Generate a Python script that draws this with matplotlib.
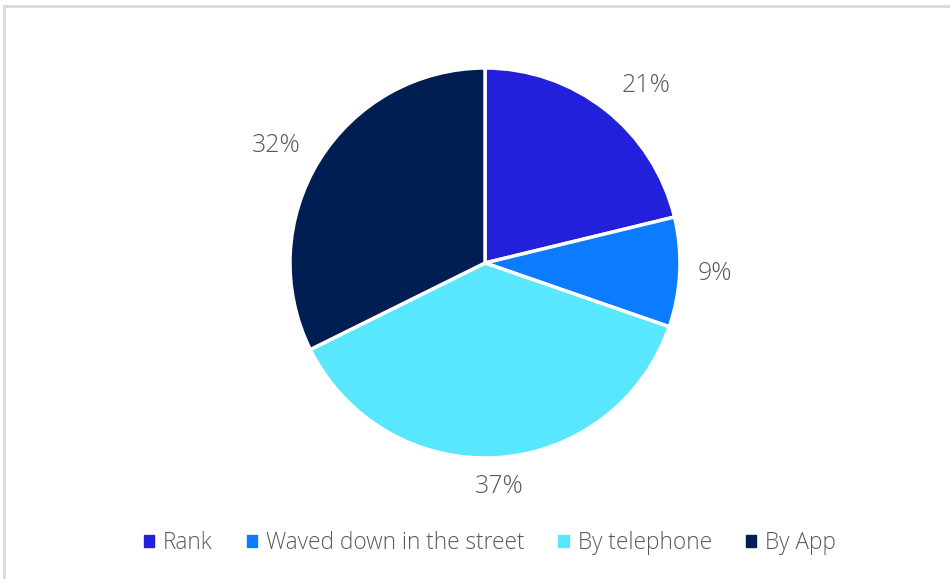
import matplotlib.pyplot as plt
import matplotlib.patches as mpatches
import numpy as np

# Share of taxi bookings by method
categories = ['Rank', 'Waved down in the street', 'By telephone', 'By App']
shares = [21, 9, 37, 32]
colours = ['#2320DC', '#0B7BFF', '#59E6FF', '#001E52']

plt.rcParams['font.family'] = ['Open Sans', 'DejaVu Sans']
txtcol = '#595959'

W, H = 950, 579
fig = plt.figure(figsize=(W / 100, H / 100), dpi=100)

# light grey frame round the chart area
fig.patches.append(mpatches.Rectangle((4 / W, -0.1), 1.1, 1 - 6 / H + 0.1,
                                      transform=fig.transFigure, fill=False,
                                      edgecolor='#d9d9d9', linewidth=2))

cx, cy, r = 485, 263, 195
ax = fig.add_axes([(cx - r) / W, (H - cy - r) / H, 2 * r / W, 2 * r / H])
wedges, _ = ax.pie(shares, colors=colours, startangle=90, counterclock=False,
                   radius=1, wedgeprops=dict(edgecolor='white', linewidth=2.5))
ax.set_xlim(-1, 1)
ax.set_ylim(-1, 1)
ax.set_aspect('equal')
ax.axis('off')

# percentage labels outside each slice
dists = [1.23, 1.18, 1.15, 1.23]
shift = [-4, 0, 0, 2.5]
for w, v, d, s in zip(wedges, shares, dists, shift):
    mid = np.deg2rad((w.theta1 + w.theta2) / 2 + s)
    ax.text(d * np.cos(mid), d * np.sin(mid), f'{v}%', ha='center', va='center',
            fontsize=18, color=txtcol, fontweight='light', clip_on=False)

handles = [mpatches.Patch(color=c) for c in colours]
leg = fig.legend(handles, categories, loc='center', ncol=4,
                 bbox_to_anchor=(490 / W, 1 - 543 / H), frameon=False,
                 handlelength=0.45, handleheight=0.45, handletextpad=0.4,
                 columnspacing=1.5, fontsize=16.3)
for t in leg.get_texts():
    t.set_color(txtcol)
    t.set_fontweight('light')

fig.savefig('out.png', dpi=100)
